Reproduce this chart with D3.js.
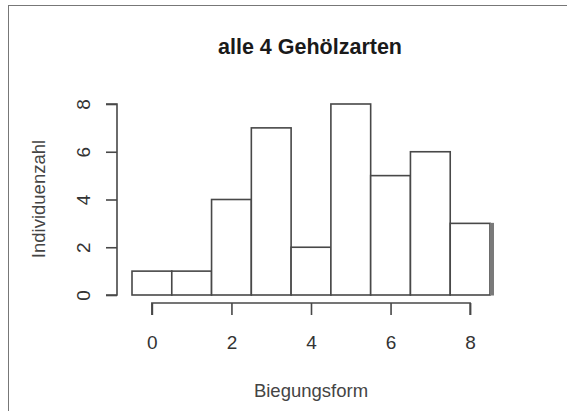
<!DOCTYPE html>
<html>
<head>
<meta charset="utf-8">
<script src="https://cdn.jsdelivr.net/npm/d3@7"></script>
<style>
  body { margin: 0; background: #fff; }
  svg { display: block; font-family: 'Liberation Sans', Arial, sans-serif; }
</style>
</head>
<body>
<script>
// histogram of Biegungsform, bins of width 1 centred on 0..8
const binCenters = [0, 1, 2, 3, 4, 5, 6, 7, 8];
const counts = [1, 1, 4, 7, 2, 8, 5, 6, 3];
const xTicks = [0, 2, 4, 6, 8];
const yTicks = [0, 2, 4, 6, 8];
const title = 'alle 4 Gehölzarten';
const xTitle = 'Biegungsform';
const yTitle = 'Individuenzahl';

const width = 567, height = 411;
const svg = d3.select('body').append('svg')
    .attr('width', width)
    .attr('height', height);

// frame of the screenshot
svg.append('rect')
    .attr('x', 8.5).attr('y', 5.5)
    .attr('width', 600).attr('height', 500)
    .attr('fill', 'none')
    .attr('stroke', '#777')
    .attr('stroke-width', 1);

const x = d3.scaleLinear().domain([-0.5, 8.5]).range([132, 490]);
const y = d3.scaleLinear().domain([0, 8]).range([295, 104]);

const ink = '#484848';
const font = "'Liberation Sans', Arial, sans-serif";

// bars
svg.append('g')
    .selectAll('rect')
    .data(binCenters)
    .join('rect')
    .attr('x', d => x(d - 0.5))
    .attr('y', (d, i) => y(counts[i]))
    .attr('width', d => x(d + 0.5) - x(d - 0.5))
    .attr('height', (d, i) => y(0) - y(counts[i]))
    .attr('fill', '#fff')
    .attr('stroke', ink)
    .attr('stroke-width', 1.6);

// the darker edge on the right of the last bar
const last = binCenters.length - 1;
svg.append('rect')
    .attr('x', x(binCenters[last] + 0.5))
    .attr('y', y(counts[last]) - 0.5)
    .attr('width', 4)
    .attr('height', y(0) - y(counts[last]) + 1)
    .attr('fill', '#7a7a7a');

// x axis (R style, detached below the plot)
const xAxis = d3.axisBottom(x)
    .tickValues(xTicks)
    .tickSize(12)
    .tickSizeOuter(0)
    .tickFormat(d3.format('d'));
const gx = svg.append('g')
    .attr('transform', 'translate(0,303)')
    .call(xAxis);
gx.select('.domain')
    .attr('d', `M${x(xTicks[0])},12V0H${x(xTicks[xTicks.length - 1])}V12`);
gx.selectAll('line, path').attr('stroke', ink).attr('stroke-width', 1.6);
gx.selectAll('text')
    .attr('y', 46).attr('dy', null)
    .attr('font-size', 19)
    .attr('fill', '#333')
    .attr('font-family', font);

// y axis, labels rotated as in R
const yAxis = d3.axisLeft(y)
    .tickValues(yTicks)
    .tickSize(11)
    .tickSizeOuter(0)
    .tickFormat(d3.format('d'));
const gy = svg.append('g')
    .attr('transform', 'translate(117,0)')
    .call(yAxis);
gy.select('.domain')
    .attr('d', `M-11,${y(yTicks[0])}H0V${y(yTicks[yTicks.length - 1])}H-11`);
gy.selectAll('line, path').attr('stroke', ink).attr('stroke-width', 1.6);
gy.selectAll('.tick text')
    .attr('x', null).attr('dy', null)
    .attr('text-anchor', 'middle')
    .attr('transform', 'translate(-27,0) rotate(-90)')
    .attr('font-size', 19)
    .attr('fill', '#333')
    .attr('font-family', font);

// titles
svg.append('text')
    .attr('x', 310).attr('y', 54)
    .attr('text-anchor', 'middle')
    .attr('font-size', 21.5)
    .attr('font-weight', 'bold')
    .attr('fill', '#1a1a1a')
    .text(title);

svg.append('text')
    .attr('x', 311).attr('y', 397)
    .attr('text-anchor', 'middle')
    .attr('font-size', 18.5)
    .attr('fill', '#444')
    .text(xTitle);

svg.append('text')
    .attr('transform', 'translate(45,199) rotate(-90)')
    .attr('text-anchor', 'middle')
    .attr('font-size', 18.5)
    .attr('fill', '#444')
    .text(yTitle);
</script>
</body>
</html>
